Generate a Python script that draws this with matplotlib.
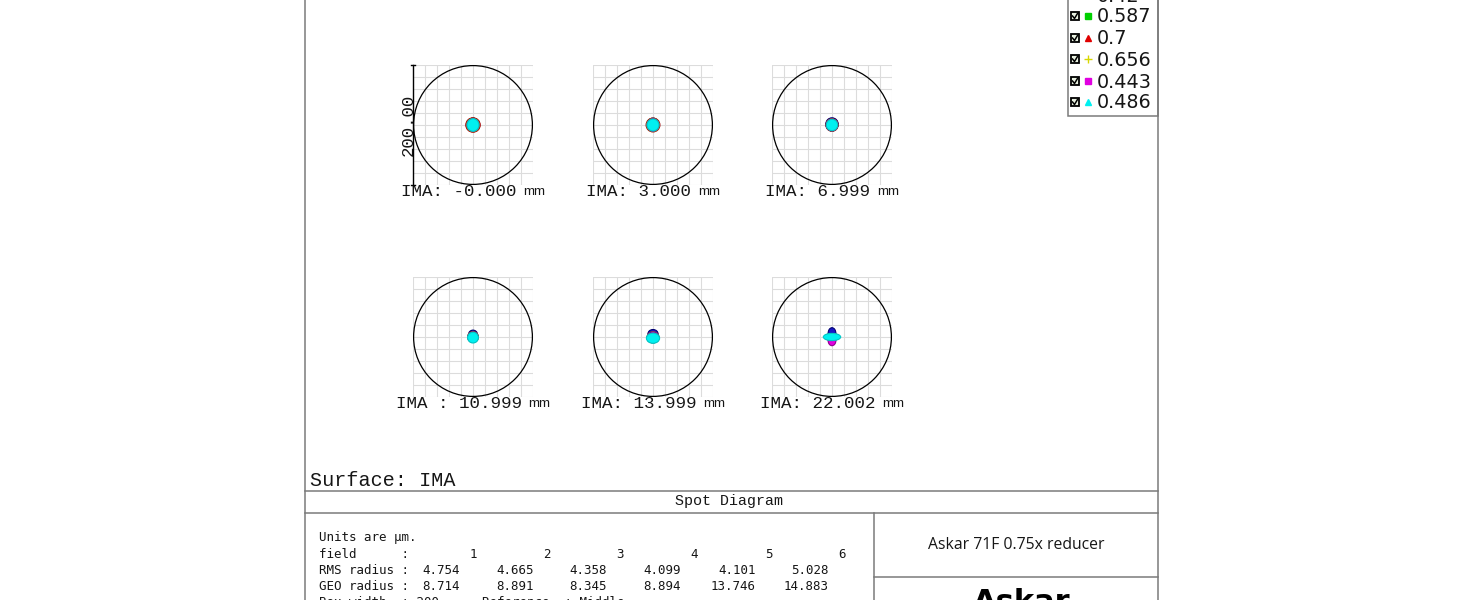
import matplotlib
matplotlib.use('Agg')
from matplotlib import pyplot as plt
from matplotlib.patches import Ellipse, Circle, Rectangle
import numpy as np

# field data
ima_pos = ['-0.000', '3.000', '6.999', '10.999', '13.999', '22.002']
ima_sep = [': ', ': ', ': ', ' : ', ': ', ': ']
rms_radius = ['4.754', '4.665', '4.358', '4.099', '4.101', '5.028']
geo_radius = ['8.714', '8.891', '8.345', '8.894', '13.746', '14.883']
box_width = 200
airy_radius = 99.0

# wavelengths (um), legend order
wavelengths = ['0.42', '0.587', '0.7', '0.656', '0.443', '0.486']
wl_colors = ['#1818c8', '#00d000', '#e00000', '#d8d800', '#e000e0', '#00f0f0']
wl_edges = ['#000070', '#008000', '#a00000', '#a0a000', '#900090', '#00c8c8']
wl_markers = ['s', 's', '^', '+', 's', '^']

# spot extents per field (um): width, height, vertical offset of centroid
spot_w = [[20, 19, 24, 21, 20, 20],
          [20, 19, 23, 21, 20, 20],
          [21, 18, 20, 19, 19, 19],
          [15, 17, 18, 17, 17, 18],
          [17, 19, 20, 19, 19, 22],
          [13, 23, 25, 23, 13, 29]]
spot_h = [[21, 20, 24, 22, 21, 21],
          [21, 20, 23, 22, 21, 20],
          [22, 19, 21, 20, 20, 19],
          [15, 17, 18, 17, 17, 18],
          [15, 17, 18, 17, 17, 17],
          [19, 11, 11, 11, 17, 12]]
spot_dy = [[1, 0, 0, 0, 0, 0],
           [1, 0, 0, 0, 0, 0],
           [1, 0, 0, 0, 0, 0],
           [4, 0, 0, 0, 0, -1],
           [5, 0, -1, 0, 0, -2],
           [6, 0, 0, 0, -6, 0]]

W, H = 1464, 600
fig = plt.figure(figsize=(W / 100, H / 100), dpi=100)
bg = fig.add_axes([0, 0, 1, 1])
bg.set_xlim(0, W)
bg.set_ylim(H, 0)
bg.axis('off')

frame = '#7a7a7a'
mono = 'Liberation Mono'
ink = '#161616'

# frame lines
bg.plot([305, 305], [0, H], color=frame, lw=1.1)
bg.plot([1158, 1158], [0, H], color=frame, lw=1.1)
bg.plot([305, 1158], [491, 491], color=frame, lw=1.1)
bg.plot([305, 1158], [513, 513], color=frame, lw=1.1)
bg.plot([874, 874], [513, H], color=frame, lw=1.1)
bg.plot([874, 1158], [577, 577], color=frame, lw=1.1)

# spot boxes
centers_x = [473, 653, 832]
centers_y = [125, 337]
for i in range(6):
    cx = centers_x[i % 3]
    cy = centers_y[i // 3]
    ax = fig.add_axes([(cx - 60) / W, (H - cy - 60) / H, 120 / W, 120 / H])
    half = box_width / 2
    ax.set_xlim(-half, half)
    ax.set_ylim(-half, half)
    ticks = np.arange(-half, half + 1, box_width / 10)
    ax.set_xticks(ticks)
    ax.set_yticks(ticks)
    ax.tick_params(length=0, labelbottom=False, labelleft=False)
    ax.grid(color='#dcdcdc', lw=0.8)
    ax.set_facecolor('none')
    for s in ax.spines.values():
        s.set_visible(False)
    for k in range(6):
        ax.add_patch(Ellipse((0, spot_dy[i][k]), spot_w[i][k], spot_h[i][k],
                             facecolor=wl_colors[k], edgecolor=wl_edges[k],
                             lw=0.8, zorder=3 + k))
    ax.add_patch(Circle((0, 0), airy_radius, fill=False, ec='black', lw=0.9,
                        clip_on=False, zorder=10))
    if i == 0:
        ax.plot([-half, -half], [-half, half], color='black', lw=1.0,
                clip_on=False, zorder=11)
        for yy in [-half, half]:
            ax.plot([-half - 3, -half + 4], [yy, yy], color='black', lw=1.0,
                    clip_on=False, zorder=11)
        bg.text(408, 125, '%.2f' % box_width, rotation=90, ha='center',
                va='center', family=mono, fontsize=12.5, color=ink)

    main = 'IMA' + ima_sep[i] + ima_pos[i]
    total = len(main) * 10.5 + 29
    left = cx - total / 2
    ty = cy + 66
    bg.text(left, ty, main, ha='left', va='center', family=mono,
            fontsize=12.6, color=ink)
    bg.text(cx + total / 2, ty + 1, 'mm', ha='right', va='center',
            family='Liberation Sans', fontsize=9.5, color=ink)

# legend
bg.add_patch(Rectangle((1068, -10), 90, 126, fill=False, ec=frame, lw=1.1))
leg_y = [-5, 16, 38, 59, 81, 102]
for k in range(6):
    y = leg_y[k]
    bg.add_patch(Rectangle((1071, y - 4), 8, 8, facecolor='#e8f0e0',
                           ec='black', lw=1.3))
    bg.plot([1072.5, 1074.5, 1077.5], [y, y + 2.5, y - 2.5], color='black', lw=1.1)
    bg.plot([1088], [y], marker=wl_markers[k], color=wl_colors[k],
            markersize=4.5 if wl_markers[k] != '+' else 6, mew=1.0)
    bg.text(1097, y + 1, wavelengths[k], ha='left', va='center',
            family='DejaVu Sans', fontsize=13.8, color=ink)

# surface label and title bar
bg.text(310, 480, 'Surface: IMA', ha='left', va='center', family=mono,
        fontsize=14.5, color=ink)
bg.text(729, 501, 'Spot Diagram', ha='center', va='center', family=mono,
        fontsize=10.8, color=ink)

# data table
tab = 'DejaVu Sans Mono'
fs = 9
col_right = [460, 534, 607, 681, 756, 829]
bg.text(319, 538, 'Units are \u00b5m.', ha='left', va='center', family=tab,
        fontsize=fs, color=ink)
bg.text(319, 554, 'field      :', ha='left', va='center', family=tab,
        fontsize=fs, color=ink)
bg.text(319, 570, 'RMS radius :', ha='left', va='center', family=tab,
        fontsize=fs, color=ink)
bg.text(319, 586, 'GEO radius :', ha='left', va='center', family=tab,
        fontsize=fs, color=ink)
bg.text(319, 602, 'Box width  : %d' % box_width, ha='left', va='center',
        family=tab, fontsize=fs, color=ink)
bg.text(482, 602, 'Reference  : Middle', ha='left', va='center',
        family=tab, fontsize=fs, color=ink)
for k in range(6):
    bg.text(col_right[k] + 17, 554, str(k + 1), ha='right', va='center',
            family=tab, fontsize=fs, color=ink)
    bg.text(col_right[k], 570, rms_radius[k], ha='right', va='center',
            family=tab, fontsize=fs, color=ink)
    bg.text(col_right[k], 586, geo_radius[k], ha='right', va='center',
            family=tab, fontsize=fs, color=ink)

# title block
bg.text(1016, 545, 'Askar 71F 0.75x reducer', ha='center', va='center',
        family='Open Sans', fontsize=11.3, color=ink)
bg.text(1022, 588, 'Askar', ha='center', va='top', family='DejaVu Sans',
        fontsize=22, fontweight='bold', color='black')

fig.savefig('out.png', dpi=100)
